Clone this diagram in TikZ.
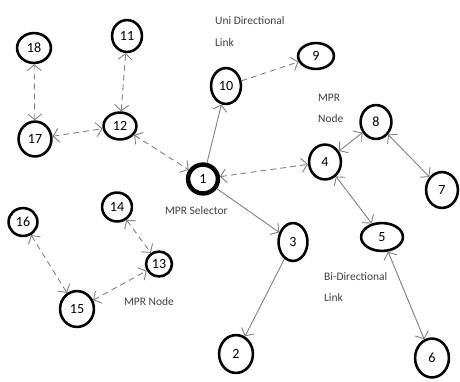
\documentclass[tikz,border=0pt]{standalone}
\usepackage{fontspec}
\setmainfont{Carlito}
\usepackage{xcolor}
\usepackage{tikz}
\usetikzlibrary{arrows.meta,shapes.geometric}
\definecolor{linkgray}{RGB}{125,125,125}

\begin{document}
\begin{tikzpicture}[x=0.03cm, y=-0.03cm, >={Straight Barb[length=5pt,width=12pt]},
    mnode/.style={ellipse, draw=black, line width=2.2pt, inner sep=0pt, font=\fontsize{12}{13}\selectfont},
    sz/.style 2 args={minimum width=#1*0.85pt, minimum height=#2*0.85pt},
    link/.style={draw=linkgray, line width=0.75pt},
    dlink/.style={link, dash pattern=on 5pt off 3.5pt},
    lbl/.style={font=\fontsize{9.8}{18}\selectfont, align=left, anchor=west, text=black!75}]
    \useasboundingbox (0,0) rectangle (460,381);

    % Nodes of the network
    \node[mnode, sz={34}{30}] (n18) at (34,48) {18};
    \node[mnode, sz={30}{32}] (n11) at (127,36) {11};
    \node[mnode, sz={30}{36}] (n10) at (226,86) {10};
    \node[mnode, sz={36}{26}] (n9) at (316,56) {9};
    \node[mnode, sz={33}{35}] (n17) at (35,139) {17};
    \node[mnode, sz={33}{27}] (n12) at (120,126) {12};
    \node[mnode, sz={30}{29}, line width=3.8pt] (n1) at (203,179) {1};
    \node[mnode, sz={31}{34}] (n8) at (376,122) {8};
    \node[mnode, sz={32}{35}] (n4) at (325,162) {4};
    \node[mnode, sz={32}{36}] (n7) at (442,190) {7};
    \node[mnode, sz={29}{28}] (n16) at (23,222) {16};
    \node[mnode, sz={30}{29}] (n14) at (117,207) {14};
    \node[mnode, sz={26}{25}] (n13) at (159,264) {13};
    \node[mnode, sz={34}{36}] (n15) at (77,309) {15};
    \node[mnode, sz={29}{38}] (n3) at (293,242) {3};
    \node[mnode, sz={42}{28}] (n5) at (382,237) {5};
    \node[mnode, sz={34}{38}] (n2) at (236,354) {2};
    \node[mnode, sz={34}{39}] (n6) at (432,358) {6};

    % Links
    \draw[dlink, <->] (n17) -- (n18);
    \draw[dlink, <->] (n12) -- (n11);
    \draw[dlink, <->] (n17) -- (n12);
    \draw[dlink, <->] (n12) -- (n1);
    \draw[link, ->] (n1) -- (n10);
    \draw[dlink, ->] (n10) -- (n9);
    \draw[dlink, <->] (n1) -- (n4);
    \draw[link, <->] (n4) -- (n8);
    \draw[link, <->] (n8) -- (n7);
    \draw[link, <->] (n4) -- (n5);
    \draw[link, <->] (n5) -- (n6);
    \draw[link, ->] (n1) -- (n3);
    \draw[link, ->] (n3) -- (n2);
    \draw[dlink, <->] (n14) -- (n13);
    \draw[dlink, <->] (n15) -- (n13);
    \draw[dlink, <->] (n16) -- (n15);

    % Labels
    \node[lbl] (uni) at (211,31.5) {Uni Directional\\Link};
    \node[lbl] (mprtop) at (314,108) {MPR\\Node};
    \node[lbl] (sel) at (161,211) {MPR Selector};
    \node[lbl] (mprbot) at (120,302) {MPR Node};
    \node[lbl] (bidir) at (320,287) {Bi-Directional\\Link};
\end{tikzpicture}
\end{document}
